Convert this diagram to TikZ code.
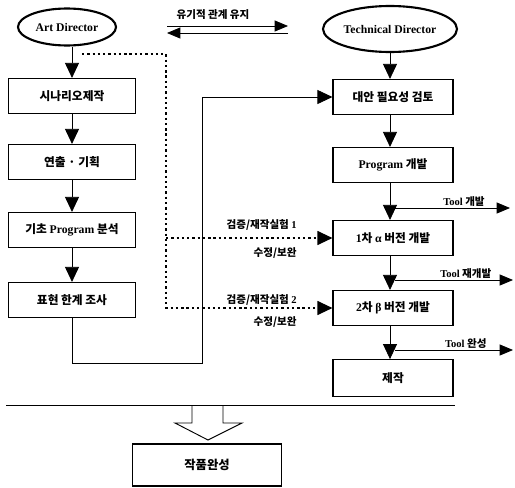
\documentclass[tikz,border=0pt]{standalone}
\usepackage{fontspec}
\setmainfont{Liberation Serif}
\newfontfamily\kr{Noto Sans CJK KR}
\usetikzlibrary{arrows.meta,shapes.geometric}

\begin{document}
\begin{tikzpicture}[x=0.3mm,y=-0.3mm,
  director/.style={shape=ellipse,draw=black,line width=1.8pt,inner sep=0pt,font=\bfseries\fontsize{10}{12}\selectfont},
  stepbox/.style={shape=rectangle,draw=black,line width=1pt,minimum height=10.5mm,inner sep=0pt,font=\kr\bfseries\fontsize{10}{12}\selectfont},
  leftbox/.style={stepbox,minimum width=38.1mm},
  rightbox/.style={stepbox,minimum width=36mm},
  flow/.style={line width=0.7pt,-{Triangle[width=4.2mm,length=4.5mm]}},
  side/.style={line width=0.7pt,-{Triangle[width=3.3mm,length=4mm]}},
  verify/.style={line width=1pt,dash pattern=on 2pt off 2.5pt,-{Triangle[width=4.2mm,length=4.5mm]}},
  note/.style={font=\kr\bfseries\fontsize{9}{11}\selectfont,inner sep=1pt}]
\useasboundingbox (0,0) rectangle (515,487);

% directors
\node[director,minimum width=29.4mm,minimum height=11.1mm] (art) at (67,27) {Art Director};
\node[director,minimum width=40.2mm,minimum height=13.8mm] (tech) at (390,29) {Technical Director};

% art side
\node[leftbox] (scen) at (72,96) {시나리오제작};
\node[leftbox] (plan) at (72,162) {연출 · 기획};
\node[leftbox] (anal) at (72,230) {기초 {\rmfamily Program} 분석};
\node[leftbox] (limit) at (72,300) {표현 한계 조사};

% technical side
\node[rightbox] (alt) at (393,97) {대안 필요성 검토};
\node[rightbox] (prog) at (393,165) {{\rmfamily Program} 개발};
\node[rightbox] (alpha) at (393,238) {{\rmfamily 1}차 {\rmfamily α} 버전 개발};
\node[rightbox] (beta) at (393,308) {{\rmfamily 2}차 {\rmfamily β} 버전 개발};
\node[rightbox,minimum height=11mm] (make) at (393,378) {제작};

\node[stepbox,minimum width=44.7mm,minimum height=12.6mm,font=\kr\bfseries\fontsize{10.5}{12}\selectfont] (done) at (207,465) {작품완성};

% relation on top
\node[note] (keep) at (213,15) {유기적 관계 유지};
\coordinate (linkA) at (167,26);
\coordinate (linkB) at (288,26);
\coordinate (linkC) at (288,33);
\coordinate (linkD) at (167,33);
\draw[side] (linkA) -- (linkB);
\draw[side] (linkC) -- (linkD);

% art flow
\draw[flow] (art.south -| scen.north) -- (scen.north);
\draw[flow] (scen.south) -- (plan.north);
\draw[flow] (plan.south) -- (anal.north);
\draw[flow] (anal.south) -- (limit.north);

% technical flow
\draw[flow] (tech.south) -- (tech.south |- alt.north);
\draw[flow] (alt.south -| tech) -- (prog.north -| tech);
\draw[flow] (prog.south -| tech) -- (alpha.north -| tech);
\draw[flow] (alpha.south -| tech) -- (beta.north -| tech);
\draw[flow] (beta.south -| tech) -- (make.north -| tech);

% verification (dotted)
\coordinate (dstart) at (82,54);
\coordinate (dcol) at (166,0);
\draw[verify] (dstart) -| (dcol |- beta.west) -- (beta.west);
\draw[verify] (dcol |- alpha.west) -- (alpha.west);
\node[note,anchor=east] (ver1) at (298,225) {검증/재작실험 {\rmfamily 1}};
\node[note,anchor=east] (fix1) at (298,253) {수정/보완};
\node[note,anchor=east] (ver2) at (298,300) {검증/재작실험 {\rmfamily 2}};
\node[note,anchor=east] (fix2) at (298,322) {수정/보완};

% feedback to technical side
\coordinate (back) at (202,363);
\draw[flow] (limit.south) |- (back) |- (alt.west);

% tool outputs
\coordinate (tool1) at (395,208);
\coordinate (tool1e) at (510,208);
\coordinate (tool2) at (395,280);
\coordinate (tool2e) at (513,280);
\coordinate (tool3) at (395,350);
\coordinate (tool3e) at (513,350);
\draw[side] (tool1) -- node[note,above,pos=0.6] (tl1) {{\rmfamily Tool} 개발} (tool1e);
\draw[side] (tool2) -- node[note,above,pos=0.6] (tl2) {{\rmfamily Tool} 재개발} (tool2e);
\draw[side] (tool3) -- node[note,above,pos=0.6] (tl3) {{\rmfamily Tool} 완성} (tool3e);

% separator and hollow arrow
\coordinate (sepL) at (6,405);
\coordinate (sepR) at (455,405);
\draw[line width=0.8pt] (sepL) -- (sepR);
\draw[line width=0.8pt] (192,405) -- (192,423) -- (175,423) -- (208,440) -- (242,423) -- (223,423) -- (223,405);
\end{tikzpicture}
\end{document}
